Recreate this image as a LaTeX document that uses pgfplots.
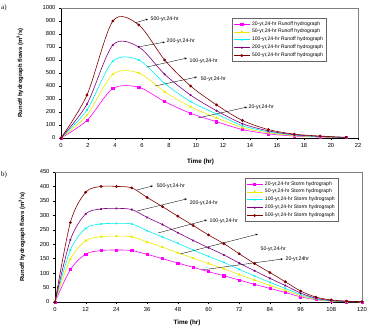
\documentclass[border=0pt]{standalone}
\usepackage{pgfplots}
\pgfplotsset{compat=1.18}
\usepackage{fontspec}
\setmainfont{Liberation Sans}
\newfontfamily\seriffont{Liberation Serif}
\usetikzlibrary{arrows.meta}

\definecolor{c20}{RGB}{255,0,255}
\definecolor{c50}{RGB}{235,235,0}
\definecolor{c100}{RGB}{0,240,240}
\definecolor{c200}{RGB}{128,0,128}
\definecolor{c500}{RGB}{128,0,0}

\pgfplotsset{
 hydro/.style={
  scale only axis, height=130pt,
  axis x line*=bottom, axis y line*=left,
  tick align=outside, major tick length=2pt,
  tick style={black, line width=0.4pt},
  axis line style={line width=0.5pt, -},
  ticklabel style={font=\fontsize{5.8}{6}\selectfont},
  /pgf/number format/assume math mode=true,
  /pgf/number format/1000 sep={},
  legend style={font=\fontsize{5.1}{5.5}\selectfont, draw=black!60, line width=0.3pt,
     inner sep=1.2pt, row sep=-1.3pt, cells={anchor=west}, anchor=north west},
  legend cell align=left,
  legend image code/.code={\draw[mark repeat=2,mark phase=2] plot coordinates {(0pt,0pt) (8pt,0pt) (16pt,0pt)};},
  every axis plot/.append style={line width=0.6pt, mark size=1.1pt, smooth, mark options={solid}},
  clip=false,
 },
}
\tikzset{
 anno/.style={font=\fontsize{5.2}{5.5}\selectfont, anchor=west, inner sep=0.5pt},
 arr/.style={-{Stealth[length=2.5pt,width=2pt]}, line width=0.35pt, black},
 xlab/.style={font=\fontsize{6.3}{7}\selectfont\bfseries, anchor=center, inner sep=0pt},
 ylab/.style={font=\fontsize{5.9}{6.5}\selectfont\bfseries, anchor=center, inner sep=0pt},
}

\begin{document}
\begin{tikzpicture}
\useasboundingbox (0,0) rectangle (367pt,328pt);
\node[anchor=west, font=\seriffont\fontsize{7}{8}\selectfont, inner sep=0pt] at (1pt,320pt) {a)};
\node[anchor=west, font=\seriffont\fontsize{7}{8}\selectfont, inner sep=0pt] at (1pt,153pt) {b)};

% ---------------- (a)
\begin{axis}[hydro, at={(61pt,190pt)}, width=297pt,
  xmin=0, xmax=22, ymin=0, ymax=1000,
  xtick={0,2,...,22}, ytick={0,100,...,1000},
  xlabel={Time (hr)}, ylabel={Runoff hydrograph flows (m\textsuperscript{3}/s)},
  every axis x label/.style={at={(axis description cs:0.47,0)}, yshift=-24pt, xlab},
  every axis y label/.style={at={(axis description cs:0,0.5)}, xshift=-41pt, rotate=90, ylab},
  legend style={at={(axis description cs:0.576,0.923)}},
]
\addplot[c20, mark=square*] coordinates {(0,0) (1.92,135) (3.84,380) (5.76,390) (7.68,280) (9.6,190) (11.52,125) (13.44,65) (15.36,32) (17.28,15) (19.2,7) (21.12,3)};
\addlegendentry{20-yr,24-hr Runoff hydrograph}
\addplot[c50, mark=triangle*] coordinates {(0,0) (1.92,175) (3.84,490) (5.76,500) (7.68,355) (9.6,240) (11.52,155) (13.44,80) (15.36,40) (17.28,18) (19.2,8) (21.12,3)};
\addlegendentry{50-yr,24-hr Runoff hydrograph}
\addplot[c100, mark=x] coordinates {(0,0) (1.92,215) (3.84,590) (5.76,600) (7.68,420) (9.6,280) (11.52,185) (13.44,95) (15.36,48) (17.28,22) (19.2,10) (21.12,4)};
\addlegendentry{100-yr,24-hr Runoff hydrograph}
\addplot[c200, mark=star] coordinates {(0,0) (1.92,260) (3.84,715) (5.76,700) (7.68,490) (9.6,330) (11.52,210) (13.44,110) (15.36,55) (17.28,25) (19.2,12) (21.12,4)};
\addlegendentry{200-yr,24-hr Runoff hydrograph}
\addplot[c500, mark=*] coordinates {(0,0) (1.92,330) (3.84,900) (5.76,870) (7.68,600) (9.6,400) (11.52,255) (13.44,135) (15.36,65) (17.28,30) (19.2,15) (21.12,5)};
\addlegendentry{500-yr,24-hr Runoff hydrograph}
\draw[black!50, line width=0.3pt] (rel axis cs:0,1) -- (rel axis cs:1,1) -- (rel axis cs:1,0);
\draw[arr] (axis cs:5.48,885) -- (axis cs:6.44,915);
\node[anno] at (axis cs:6.59,915) {500-yr,24-hr};
\draw[arr] (axis cs:5.70,700) -- (axis cs:7.70,738);
\node[anno] at (axis cs:7.78,746) {200-yr,24-hr};
\draw[arr] (axis cs:6.37,546) -- (axis cs:9.33,615);
\node[anno] at (axis cs:9.48,592) {100-yr,24-hr};
\draw[arr] (axis cs:6.96,400) -- (axis cs:10.07,469);
\node[anno] at (axis cs:10.30,454) {50-yr,24-hr};
\draw[arr] (axis cs:10.15,154) -- (axis cs:13.78,238);
\node[anno] at (axis cs:13.85,238) {20-yr,24-hr};
\end{axis}

% ---------------- (b)
\begin{axis}[hydro, at={(55pt,26pt)}, width=307pt,
  xmin=0, xmax=120, ymin=0, ymax=450,
  xtick={0,12,...,120}, ytick={0,50,...,450},
  xlabel={Time (hr)}, ylabel={Runoff hydrograph flows (m\textsuperscript{3}/s)},
  every axis x label/.style={at={(axis description cs:0.43,0)}, yshift=-21pt, xlab},
  every axis y label/.style={at={(axis description cs:0,0.5)}, xshift=-33pt, rotate=90, ylab},
  legend style={at={(axis description cs:0.619,0.954)}},
]
\addplot[c20, mark=square*] coordinates {(0,0) (6,112) (12,166) (18,178) (24,180) (30,178) (36,165) (42,150) (48,135) (54,120) (60,105) (66,91) (72,76) (78,61) (84,47) (90,33) (96,18) (102,8) (108,3) (114,1) (120,0)};
\addlegendentry{20-yr,24-hr Storm hydrograph}
\addplot[c50, mark=triangle*] coordinates {(0,0) (6,148) (12,212) (18,226) (24,228) (30,226) (36,208) (42,190) (48,170) (54,152) (60,133) (66,115) (72,95) (78,76) (84,57) (90,40) (96,22) (102,9) (108,3) (114,1) (120,0)};
\addlegendentry{50-yr,24-hr Storm hydrograph}
\addplot[c100, mark=x] coordinates {(0,0) (6,180) (12,255) (18,270) (24,272) (30,270) (36,247) (42,225) (48,203) (54,180) (60,158) (66,137) (72,113) (78,90) (84,68) (90,47) (96,26) (102,11) (108,4) (114,2) (120,1)};
\addlegendentry{100-yr,24-hr Storm hydrograph}
\addplot[c200, mark=star] coordinates {(0,0) (6,215) (12,305) (18,322) (24,324) (30,320) (36,293) (42,268) (48,240) (54,213) (60,188) (66,163) (72,135) (78,108) (84,82) (90,57) (96,31) (102,13) (108,5) (114,2) (120,1)};
\addlegendentry{200-yr,24-hr Storm hydrograph}
\addplot[c500, mark=*] coordinates {(0,0) (6,275) (12,380) (18,400) (24,400) (30,395) (36,362) (42,330) (48,297) (54,265) (60,232) (66,202) (72,167) (78,133) (84,102) (90,70) (96,38) (102,17) (108,7) (114,3) (120,1)};
\addlegendentry{500-yr,24-hr Storm hydrograph}
\draw[black!50, line width=0.3pt] (rel axis cs:0,1) -- (rel axis cs:1,1) -- (rel axis cs:1,0);
\draw[arr] (axis cs:32.05,388) -- (axis cs:38.3,402);
\node[anno] at (axis cs:39.5,402) {500-yr,24-hr};
\draw[arr] (axis cs:32.05,315) -- (axis cs:51.6,357);
\node[anno] at (axis cs:52.4,343) {200-yr,24-hr};
\draw[arr] (axis cs:40.3,239) -- (axis cs:59.4,284);
\node[anno] at (axis cs:60.2,280) {100-yr,24-hr};
\draw[arr] (axis cs:48.9,166) -- (axis cs:79.3,235);
\node[anno] at (axis cs:80.1,183) {50-yr,24-hr};
\draw[arr] (axis cs:57.5,111) -- (axis cs:89.1,149);
\node[anno] at (axis cs:89.9,149) {20-yr,24hr};
\end{axis}
\end{tikzpicture}
\end{document}
